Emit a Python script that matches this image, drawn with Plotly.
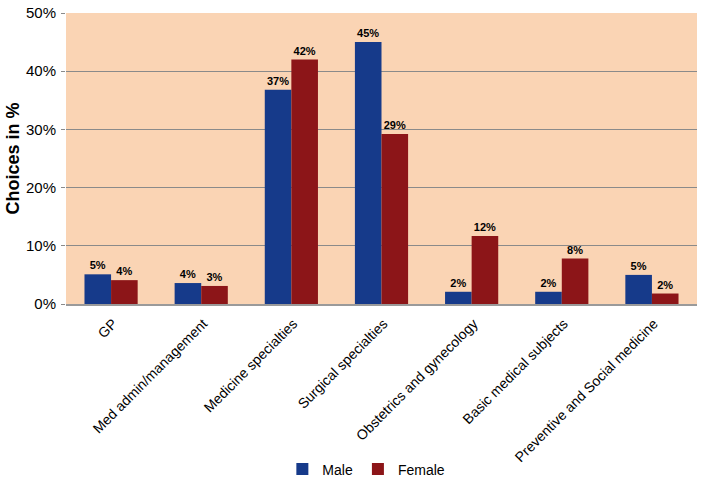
import plotly.graph_objects as go

categories = ["GP", "Med admin/management", "Medicine specialties", "Surgical specialties",
              "Obstetrics and gynecology", "Basic medical subjects", "Preventive and Social medicine"]
male = [5.1, 3.6, 36.8, 45.0, 2.1, 2.1, 5.0]
female = [4.1, 3.1, 42.0, 29.2, 11.7, 7.8, 1.8]
y_ticks = [0, 10, 20, 30, 40, 50]
y_ticktext = ["0%", "10%", "20%", "30%", "40%", "50%"]

label_font = dict(size=11, color="black", family="Liberation Sans, Arial", weight="bold")

fig = go.Figure()
fig.add_trace(go.Bar(name="Male", x=categories, y=male,
                     marker=dict(color="#163A8A", line=dict(width=0)),
                     text=[f"{round(v)}%" for v in male], textposition="outside",
                     textfont=label_font, cliponaxis=False))
fig.add_trace(go.Bar(name="Female", x=categories, y=female,
                     marker=dict(color="#8C1518", line=dict(width=0)),
                     text=[f"{round(v)}%" for v in female], textposition="outside",
                     textfont=label_font, cliponaxis=False))

fig.update_layout(
    width=706, height=485,
    margin=dict(l=66, r=9, t=13, b=181, autoexpand=False),
    paper_bgcolor="white", plot_bgcolor="#FAD4B4",
    barmode="group", bargap=0.41, bargroupgap=0,
    font=dict(family="Liberation Sans, Arial", color="black"),
    showlegend=True,
    legend=dict(orientation="h", x=0.476, xanchor="center", yref="container",
                y=0.065, yanchor="top", font=dict(size=14), itemwidth=30),
    xaxis=dict(tickangle=-45, tickfont=dict(size=14), showline=True, linecolor="#9a9a9a",
               linewidth=2, ticks="", showgrid=False, automargin=False,
               ticklabelstandoff=4, ticklabelshift=2),
    yaxis=dict(range=[0, 50], tickmode="array", tickvals=y_ticks, ticktext=y_ticktext,
               tickfont=dict(size=15), automargin=False, ticklabelstandoff=2,
               showgrid=True, gridcolor="#8a8a8a", gridwidth=1, zeroline=False,
               ticks="outside", ticklen=4, tickcolor="#8a8a8a",
               title=dict(text="<b>Choices in %</b>", font=dict(size=18), standoff=1)),
)

fig.write_html("out.html", config={"displayModeBar": False},
               post_script="document.body.style.margin='0';")
